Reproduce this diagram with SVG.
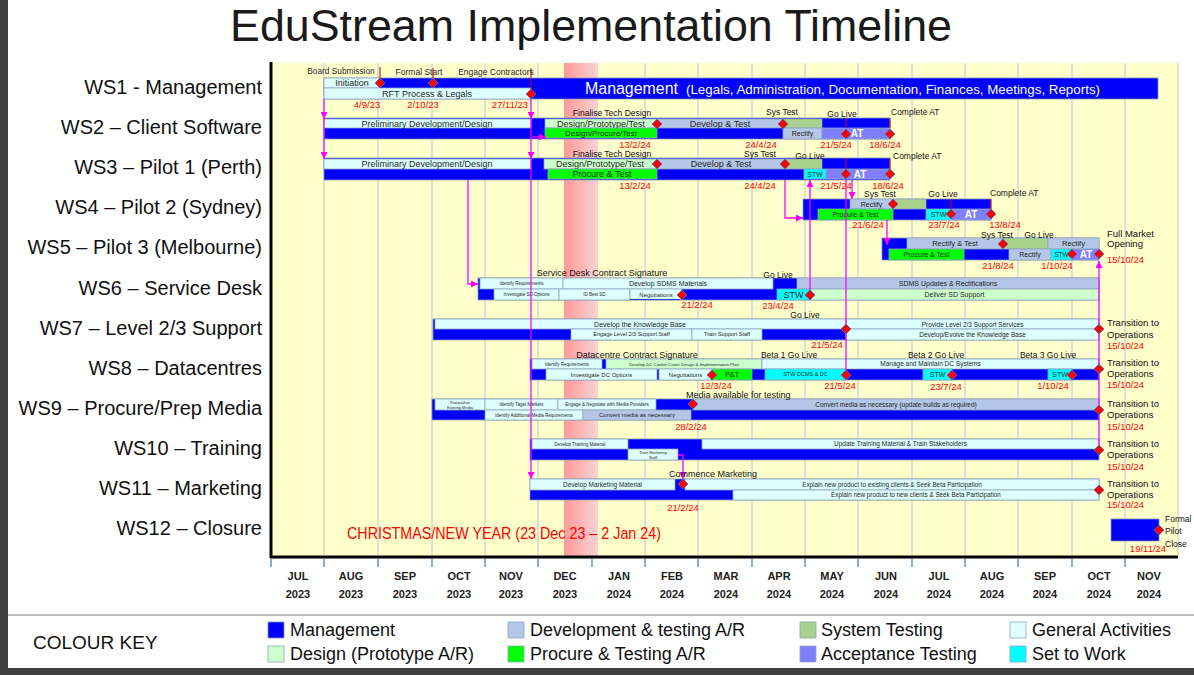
<svg xmlns="http://www.w3.org/2000/svg" width="1194" height="675" viewBox="0 0 1194 675">
<defs>
<linearGradient id="xmas" x1="0" y1="0" x2="1" y2="0">
<stop offset="0" stop-color="#FF9A9A"/><stop offset="1" stop-color="#FFD0D0"/>
</linearGradient>
<marker id="ah" viewBox="0 0 10 10" refX="10" refY="5" markerWidth="7" markerHeight="7" orient="auto" markerUnits="userSpaceOnUse">
<path d="M0,0 L10,5 L0,10z" fill="#FF00FF"/>
</marker>
<path id="dm" d="M0,-5 L5,0 L0,5 L-5,0Z" fill="#FF0000" stroke="#4472C4" stroke-width="0.8"/>
<style>
text{font-family:"Liberation Sans",Arial,sans-serif;fill:#1f1f1f}
.c{text-anchor:middle}
.m{fill:#0000FF;stroke:#8497B0;stroke-width:0.8}
.g{fill:#DDFFFF;stroke:#8FA4BF;stroke-width:0.8}
.d{fill:#B4C7E7;stroke:#8FA4BF;stroke-width:0.8}
.p{fill:#CCFFCC;stroke:#8FA4BF;stroke-width:0.8}
.pt{fill:#00FF00;stroke:#8FA4BF;stroke-width:0.8}
.st{fill:#A9D18E;stroke:#8FA4BF;stroke-width:0.8}
.at{fill:#8080FF;stroke:#8FA4BF;stroke-width:0.8}
.sw{fill:#00FFFF;stroke:#8FA4BF;stroke-width:0.8}
.grid{stroke:#D6D6D6;stroke-width:1.5}
.tick{stroke:#4472C4;stroke-width:1.2}
.mo{font-size:11px;font-weight:bold;text-anchor:middle;fill:#222}
.ws{font-size:20px;text-anchor:end;fill:#111}
.red{font-size:9.5px;fill:#FF0000}
.ms{font-size:8.5px;fill:#111}
.big{font-size:9px;fill:#111}
.rt{font-size:9.5px;fill:#111}
.atx{font-size:10px;font-weight:bold;fill:#FFFFFF;text-anchor:middle}
.rl{stroke:#E00000;stroke-width:1}
.con{fill:none;stroke:#FF00FF;stroke-width:1.3}
.lg{font-size:18px;fill:#111}
</style>
</defs>

<rect x="0" y="0" width="1194" height="675" fill="#FFFFFF"/>
<rect x="0" y="0" width="8" height="675" fill="#3F3F3F"/>
<rect x="0" y="668" width="1194" height="7" fill="#3F3F3F"/>

<text x="591" y="41" font-size="44" class="c" textLength="722" lengthAdjust="spacingAndGlyphs" style="fill:#1a1a1a">EduStream Implementation Timeline</text>

<!-- chart background -->
<rect x="272" y="63" width="908" height="493" fill="#FFFFCC"/>
<rect x="564" y="63" width="34" height="493" fill="url(#xmas)"/>
<g id="gridlines">
<line class="grid" x1="324" y1="63" x2="324" y2="555"/>
<line class="grid" x1="378" y1="63" x2="378" y2="555"/>
<line class="grid" x1="432" y1="63" x2="432" y2="555"/>
<line class="grid" x1="485" y1="63" x2="485" y2="555"/>
<line class="grid" x1="538" y1="63" x2="538" y2="555"/>
<line class="grid" x1="592" y1="63" x2="592" y2="555"/>
<line class="grid" x1="645" y1="63" x2="645" y2="555"/>
<line class="grid" x1="698" y1="63" x2="698" y2="555"/>
<line class="grid" x1="752" y1="63" x2="752" y2="555"/>
<line class="grid" x1="805" y1="63" x2="805" y2="555"/>
<line class="grid" x1="858" y1="63" x2="858" y2="555"/>
<line class="grid" x1="912" y1="63" x2="912" y2="555"/>
<line class="grid" x1="965" y1="63" x2="965" y2="555"/>
<line class="grid" x1="1018" y1="63" x2="1018" y2="555"/>
<line class="grid" x1="1072" y1="63" x2="1072" y2="555"/>
<line class="grid" x1="1125" y1="63" x2="1125" y2="555"/>
<line class="grid" x1="1178" y1="63" x2="1178" y2="555"/>
</g>
<line x1="271" y1="62" x2="271" y2="558" stroke="#000" stroke-width="3"/>
<line x1="270" y1="557" x2="1178" y2="557" stroke="#000" stroke-width="3"/>

<!-- axis -->
<g id="axis">
<line class="tick" x1="271" y1="559" x2="271" y2="567"/>
<line class="tick" x1="324" y1="559" x2="324" y2="567"/>
<line class="tick" x1="378" y1="559" x2="378" y2="567"/>
<line class="tick" x1="432" y1="559" x2="432" y2="567"/>
<line class="tick" x1="485" y1="559" x2="485" y2="567"/>
<line class="tick" x1="538" y1="559" x2="538" y2="567"/>
<line class="tick" x1="592" y1="559" x2="592" y2="567"/>
<line class="tick" x1="645" y1="559" x2="645" y2="567"/>
<line class="tick" x1="698" y1="559" x2="698" y2="567"/>
<line class="tick" x1="752" y1="559" x2="752" y2="567"/>
<line class="tick" x1="805" y1="559" x2="805" y2="567"/>
<line class="tick" x1="858" y1="559" x2="858" y2="567"/>
<line class="tick" x1="912" y1="559" x2="912" y2="567"/>
<line class="tick" x1="965" y1="559" x2="965" y2="567"/>
<line class="tick" x1="1018" y1="559" x2="1018" y2="567"/>
<line class="tick" x1="1072" y1="559" x2="1072" y2="567"/>
<line class="tick" x1="1125" y1="559" x2="1125" y2="567"/>
<text class="mo" x="298" y="580">JUL</text><text class="mo" x="298" y="598">2023</text>
<text class="mo" x="351" y="580">AUG</text><text class="mo" x="351" y="598">2023</text>
<text class="mo" x="405" y="580">SEP</text><text class="mo" x="405" y="598">2023</text>
<text class="mo" x="459" y="580">OCT</text><text class="mo" x="459" y="598">2023</text>
<text class="mo" x="511" y="580">NOV</text><text class="mo" x="511" y="598">2023</text>
<text class="mo" x="565" y="580">DEC</text><text class="mo" x="565" y="598">2023</text>
<text class="mo" x="619" y="580">JAN</text><text class="mo" x="619" y="598">2024</text>
<text class="mo" x="672" y="580">FEB</text><text class="mo" x="672" y="598">2024</text>
<text class="mo" x="726" y="580">MAR</text><text class="mo" x="726" y="598">2024</text>
<text class="mo" x="779" y="580">APR</text><text class="mo" x="779" y="598">2024</text>
<text class="mo" x="832" y="580">MAY</text><text class="mo" x="832" y="598">2024</text>
<text class="mo" x="886" y="580">JUN</text><text class="mo" x="886" y="598">2024</text>
<text class="mo" x="939" y="580">JUL</text><text class="mo" x="939" y="598">2024</text>
<text class="mo" x="992" y="580">AUG</text><text class="mo" x="992" y="598">2024</text>
<text class="mo" x="1045" y="580">SEP</text><text class="mo" x="1045" y="598">2024</text>
<text class="mo" x="1099" y="580">OCT</text><text class="mo" x="1099" y="598">2024</text>
<text class="mo" x="1149" y="580">NOV</text><text class="mo" x="1149" y="598">2024</text>
</g>

<!-- row labels -->
<g id="row-labels">
<text class="ws" x="262" y="94">WS1 - Management</text>
<text class="ws" x="262" y="134">WS2 – Client Software</text>
<text class="ws" x="262" y="174">WS3 – Pilot 1 (Perth)</text>
<text class="ws" x="262" y="214">WS4 – Pilot 2 (Sydney)</text>
<text class="ws" x="262" y="254">WS5 – Pilot 3 (Melbourne)</text>
<text class="ws" x="262" y="295">WS6 – Service Desk</text>
<text class="ws" x="262" y="335">WS7 – Level 2/3 Support</text>
<text class="ws" x="262" y="375">WS8 – Datacentres</text>
<text class="ws" x="262" y="415">WS9 – Procure/Prep Media</text>
<text class="ws" x="262" y="455">WS10 – Training</text>
<text class="ws" x="262" y="495">WS11 – Marketing</text>
<text class="ws" x="262" y="535">WS12 – Closure</text>
</g>

<!-- WS1 -->
<g id="ws1">
<rect class="m" x="324" y="78" width="834" height="21"/>
<rect class="g" x="324" y="78" width="56" height="10"/>
<text class="c" x="352" y="86.3" font-size="9">Initiation</text>
<rect class="g" x="324" y="88" width="207" height="11"/>
<text class="c" x="427" y="96.7" font-size="9">RFT Process &amp; Legals</text>
<text x="585" y="94" font-size="16" style="fill:#fff" textLength="93" lengthAdjust="spacingAndGlyphs">Management</text>
<text x="686" y="94" font-size="12.5" style="fill:#fff" textLength="414" lengthAdjust="spacingAndGlyphs">(Legals, Administration, Documentation, Finances, Meetings, Reports)</text>
</g>

<!-- WS2 -->
<g id="ws2">
<rect class="m" x="324" y="118" width="566" height="21"/>
<rect class="g" x="324" y="119" width="207" height="9"/>
<text class="c" x="427" y="126.7" font-size="9">Preliminary Development/Design</text>
<rect class="p" x="545" y="119" width="112" height="9"/>
<text class="c" x="601" y="126.7" font-size="9">Design/Prototype/Test</text>
<rect class="pt" x="545" y="128" width="112" height="10"/>
<text class="c" x="601" y="135.8" font-size="8">Design/Procure/Test</text>
<rect class="d" x="657" y="119" width="126" height="9"/>
<text class="c" x="720" y="126.7" font-size="9">Develop &amp; Test</text>
<rect class="st" x="783" y="119" width="39" height="9"/>
<rect class="d" x="783" y="128" width="39" height="11"/>
<text class="c" x="802.5" y="136" font-size="7">Rectify</text>
<rect class="at" x="822" y="128" width="68" height="11"/>
<text class="atx" x="857" y="137.3">AT</text>
<line class="rl" x1="846" y1="118" x2="846" y2="128"/>
<line class="rl" x1="890" y1="118" x2="890" y2="128"/>
</g>

<!-- WS3 -->
<g id="ws3">
<rect class="m" x="324" y="158" width="566" height="22"/>
<rect class="g" x="324" y="159" width="207" height="10"/>
<text class="c" x="427" y="167.2" font-size="9">Preliminary Development/Design</text>
<rect class="p" x="544" y="159" width="113" height="10"/>
<text class="c" x="600" y="167.2" font-size="9">Design/Prototype/Test</text>
<rect class="pt" x="548" y="169" width="109" height="10"/>
<text class="c" x="602" y="177.2" font-size="9">Procure &amp; Test</text>
<rect class="d" x="657" y="159" width="128" height="10"/>
<text class="c" x="721" y="167.2" font-size="9">Develop &amp; Test</text>
<rect class="st" x="785" y="159" width="37" height="10"/>
<rect class="sw" x="804" y="169" width="22" height="10"/>
<text class="c" x="815" y="176.5" font-size="7">STW</text>
<rect class="at" x="826" y="169" width="64" height="10"/>
<text class="atx" x="860" y="177.8">AT</text>
<line class="rl" x1="846" y1="158" x2="846" y2="169"/>
<line class="rl" x1="890" y1="158" x2="890" y2="169"/>
</g>

<!-- WS4 -->
<g id="ws4">
<rect class="m" x="803" y="199" width="188" height="21"/>
<rect class="d" x="850" y="199" width="43" height="10"/>
<text class="c" x="871.5" y="206.5" font-size="7">Rectify</text>
<rect class="st" x="893" y="199" width="33" height="10"/>
<rect class="pt" x="818" y="209" width="75" height="11"/>
<text class="c" x="855.5" y="217" font-size="7">Procure &amp; Test</text>
<rect class="sw" x="926" y="209" width="25" height="11"/>
<text class="c" x="938.5" y="217" font-size="7">STW</text>
<rect class="at" x="951" y="209" width="40" height="11"/>
<text class="atx" x="971" y="218.2">AT</text>
<line class="rl" x1="951" y1="199" x2="951" y2="209"/>
<line class="rl" x1="991" y1="199" x2="991" y2="210" stroke="#FF6600"/>
</g>

<!-- WS5 -->
<g id="ws5">
<rect class="m" x="882" y="238" width="217" height="22"/>
<rect class="d" x="907" y="238" width="96" height="11"/>
<text class="c" x="955" y="246.2" font-size="7.5">Rectify &amp; Test</text>
<rect class="st" x="1003" y="238" width="45" height="11"/>
<rect class="d" x="1048" y="238" width="51" height="11"/>
<text class="c" x="1073.5" y="246.2" font-size="7.5">Rectify</text>
<rect class="pt" x="889" y="249" width="75" height="11"/>
<text class="c" x="926.5" y="257.2" font-size="7">Procure &amp; Test</text>
<rect class="d" x="1009" y="249" width="42" height="11"/>
<text class="c" x="1030" y="257.2" font-size="7">Rectify</text>
<rect class="sw" x="1051" y="249" width="21" height="11"/>
<text class="c" x="1061.5" y="257" font-size="6.5">STW</text>
<rect class="at" x="1072" y="249" width="27" height="11"/>
<text class="atx" x="1086" y="258.2">AT</text>
</g>

<!-- WS6 -->
<g id="ws6">
<rect class="m" x="478" y="278" width="621" height="22"/>
<rect class="g" x="480" y="278" width="83" height="11"/>
<text class="c" x="521.5" y="285" font-size="4.5">Identify Requirements</text>
<rect class="g" x="563" y="278" width="210" height="11"/>
<text class="c" x="668" y="286" font-size="7">Develop SDMS Materials</text>
<rect class="d" x="797" y="278" width="302" height="11"/>
<text class="c" x="948" y="286" font-size="7">SDMS Updates &amp; Rectifications</text>
<rect class="g" x="494" y="289" width="65" height="11"/>
<text class="c" x="526.5" y="296" font-size="4.5">Investigate SD Options</text>
<rect class="g" x="559" y="289" width="71" height="11"/>
<text class="c" x="594.5" y="296" font-size="4.5">ID Best SD</text>
<rect class="g" x="630" y="289" width="52" height="11"/>
<text class="c" x="656" y="296.6" font-size="6">Negotiations</text>
<line x1="630" y1="299.5" x2="680" y2="299.5" stroke="#2E3FD0" stroke-width="1"/>
<rect class="sw" x="777" y="289" width="33" height="11"/>
<text class="c" x="793.5" y="297.8" font-size="9">STW</text>
<rect class="p" x="810" y="289" width="289" height="11"/>
<text class="c" x="954.5" y="297" font-size="7">Deliver SD Support</text>
</g>

<!-- WS7 -->
<g id="ws7">
<rect class="m" x="433" y="319" width="666" height="21"/>
<rect class="g" x="435" y="319" width="411" height="10"/>
<text class="c" x="640" y="326.5" font-size="7">Develop the Knowledge Base</text>
<rect class="g" x="846" y="319" width="253" height="10"/>
<text class="c" x="972.5" y="326.5" font-size="6.5">Provide Level 2/3 Support Services</text>
<rect class="g" x="571" y="329" width="121" height="11"/>
<text class="c" x="631.5" y="336.4" font-size="5.5">Engage Level 2/3 Support Staff</text>
<rect class="g" x="692" y="329" width="70" height="11"/>
<text class="c" x="727" y="336.4" font-size="5.5">Train Support Staff</text>
<rect class="g" x="846" y="329" width="253" height="11"/>
<text class="c" x="972.5" y="336.8" font-size="6.5">Develop/Evolve the Knowledge Base</text>
</g>

<!-- WS8 -->
<g id="ws8">
<rect class="m" x="530" y="359" width="569" height="21"/>
<rect class="g" x="532" y="359" width="70" height="10"/>
<text class="c" x="567" y="365.6" font-size="4.5">Identify Requirements</text>
<rect class="p" x="606" y="359" width="156" height="10"/>
<text class="c" x="684" y="365.5" font-size="4.3">Develop DC Cookie Cutter Design &amp; Implementation Plan</text>
<rect class="g" x="762" y="359" width="337" height="10"/>
<text class="c" x="930.5" y="366.3" font-size="6.5">Manage and Maintain DC Systems</text>
<rect class="g" x="546" y="369" width="111" height="11"/>
<text class="c" x="601.5" y="376.6" font-size="6">Investigate DC Options</text>
<rect class="g" x="659" y="369" width="53" height="11"/>
<text class="c" x="685.5" y="376.6" font-size="6">Negotiations</text>
<rect class="pt" x="712" y="369" width="40" height="11"/>
<text class="c" x="732" y="377" font-size="7">P&amp;T</text>
<rect class="sw" x="765" y="369" width="81" height="11"/>
<text class="c" x="805.5" y="376.4" font-size="5.5">STW DCMS &amp; DC</text>
<rect class="sw" x="923" y="369" width="29" height="11"/>
<text class="c" x="937.5" y="377" font-size="7">STW</text>
<rect class="sw" x="1048" y="369" width="24" height="11"/>
<text class="c" x="1060" y="377" font-size="7">STW</text>
</g>

<!-- WS9 -->
<g id="ws9">
<rect class="m" x="432" y="399" width="667" height="21"/>
<rect class="g" x="435" y="399" width="50" height="11"/>
<text class="c" x="460" y="403.6" font-size="4">Rationalise</text>
<text class="c" x="460" y="408.6" font-size="4">Existing Media</text>
<rect class="g" x="485" y="399" width="73" height="11"/>
<text class="c" x="521.5" y="406" font-size="4.5">Identify Taget Markets</text>
<rect class="g" x="558" y="399" width="98" height="11"/>
<text class="c" x="607" y="406" font-size="4.5">Engage &amp; Negotiate with Media Providers</text>
<rect class="d" x="693" y="399" width="406" height="11"/>
<text class="c" x="896" y="406.8" font-size="6.5">Convert media as necessary (update builds as required)</text>
<rect class="g" x="485" y="410" width="98" height="10"/>
<text class="c" x="534" y="416.6" font-size="4.5">Identify Additional Media Requirements</text>
<rect class="d" x="583" y="410" width="108" height="10"/>
<text class="c" x="637" y="417" font-size="6">Convert media as necessary</text>
</g>

<!-- WS10 -->
<g id="ws10">
<rect class="m" x="530" y="439" width="569" height="21"/>
<rect class="g" x="532" y="439" width="96" height="10"/>
<text class="c" x="580" y="445.6" font-size="4.5">Develop Training Material</text>
<rect class="g" x="702" y="439" width="397" height="10"/>
<text class="c" x="900.5" y="446.3" font-size="6.5">Update Training Material &amp; Train Stakeholders</text>
<rect class="g" x="628" y="449" width="50" height="11"/>
<text class="c" x="653" y="454" font-size="4">Train Marketing</text>
<text class="c" x="653" y="458.6" font-size="4">Staff</text>
</g>

<!-- WS11 -->
<g id="ws11">
<rect class="m" x="530" y="479" width="569" height="21"/>
<rect class="g" x="530" y="479" width="145" height="11"/>
<text class="c" x="602.5" y="486.8" font-size="6.5">Develop Marketing Material</text>
<rect class="g" x="685" y="479" width="414" height="11"/>
<text class="c" x="892" y="486.8" font-size="6.3">Explain new product to existing clients &amp; Seek Beta Participation</text>
<rect class="g" x="733" y="490" width="366" height="10"/>
<text class="c" x="916" y="497.3" font-size="6.3">Explain new product to new clients &amp; Seek Beta Participation</text>
</g>

<!-- WS12 -->
<g id="ws12">
<rect class="m" x="1111" y="519" width="48" height="22"/>
</g>

<!-- connectors -->
<g id="connectors">
<line x1="380" y1="67" x2="380" y2="78" stroke="#C00000" stroke-width="1"/>
<line x1="433" y1="68" x2="433" y2="78" stroke="#C00000" stroke-width="1"/>
<line x1="531" y1="68" x2="531" y2="94" stroke="#C00000" stroke-width="1"/>
<path class="con" d="M324,99 V119 V159" marker-mid="url(#ah)" marker-end="url(#ah)"/>
<path class="con" d="M531,99 V119 V159 V479" marker-mid="url(#ah)" marker-end="url(#ah)"/>
<path class="con" d="M532,137 H546" marker-end="url(#ah)"/>
<path class="con" d="M468,180 V284 H478" marker-end="url(#ah)"/>
<path class="con" d="M785,180 V218 H803" marker-end="url(#ah)"/>
<path class="con" d="M810,295 V180" marker-end="url(#ah)"/>
<path class="con" d="M846,180 V375"/>
<path class="con" d="M852,180 V199" marker-end="url(#ah)"/>
<path class="con" d="M887,220 V245" marker-end="url(#ah)"/>
<path class="con" d="M1099,450 V261" marker-end="url(#ah)"/>
<path class="con" d="M678,455 H683 V479" marker-end="url(#ah)"/>
</g>

<!-- milestones -->
<g id="milestones">
<use href="#dm" x="380" y="83"/><use href="#dm" x="433" y="83"/><use href="#dm" x="531" y="94"/>
<use href="#dm" x="657" y="124"/><use href="#dm" x="783" y="124"/><use href="#dm" x="846" y="134"/><use href="#dm" x="890" y="134"/>
<use href="#dm" x="657" y="164"/><use href="#dm" x="785" y="164"/><use href="#dm" x="846" y="174"/><use href="#dm" x="890" y="174"/>
<use href="#dm" x="893" y="204"/><use href="#dm" x="951" y="214"/><use href="#dm" x="991" y="214"/>
<use href="#dm" x="1003" y="244"/><use href="#dm" x="1072" y="254"/><use href="#dm" x="1099" y="254"/>
<use href="#dm" x="682" y="295"/><use href="#dm" x="810" y="295"/>
<use href="#dm" x="846" y="329"/><use href="#dm" x="1099" y="329"/>
<use href="#dm" x="712" y="375"/><use href="#dm" x="846" y="375"/><use href="#dm" x="952" y="375"/><use href="#dm" x="1072" y="375"/><use href="#dm" x="1099" y="369"/>
<use href="#dm" x="693" y="404"/><use href="#dm" x="1099" y="410"/>
<use href="#dm" x="1099" y="450"/>
<use href="#dm" x="683" y="484"/><use href="#dm" x="1099" y="490"/>
<use href="#dm" x="1159" y="530"/>
</g>

<!-- milestone labels -->
<g id="labels">
<text class="c" x="341" y="74" font-size="8.3">Board Submission</text>
<text class="c" x="419" y="75" font-size="8.5">Formal Start</text>
<text class="c" x="496" y="75" font-size="8.5">Engage Contractors</text>
<text class="red c" x="367" y="108">4/9/23</text>
<text class="red c" x="423" y="108">2/10/23</text>
<text class="red c" x="510" y="108">27/11/23</text>

<text class="ms c" x="612" y="116">Finalise Tech Design</text>
<text class="ms c" x="782" y="115">Sys Test</text>
<text class="ms c" x="842" y="117">Go Live</text>
<text class="ms" x="891" y="115">Complete AT</text>
<text class="red c" x="635" y="147.5">13/2/24</text>
<text class="red c" x="761" y="147.5">24/4/24</text>
<text class="red c" x="836" y="147.5">21/5/24</text>
<text class="red c" x="885" y="147.5">18/6/24</text>

<text class="ms c" x="612" y="157">Finalise Tech Design</text>
<text class="ms c" x="760" y="157">Sys Test</text>
<text class="ms c" x="810" y="159">Go Live</text>
<text class="ms" x="893" y="159">Complete AT</text>
<text class="red c" x="635" y="189">13/2/24</text>
<text class="red c" x="760" y="189">24/4/24</text>
<text class="red c" x="836" y="189">21/5/24</text>
<text class="red c" x="888" y="189">18/6/24</text>

<text class="ms c" x="880" y="197">Sys Test</text>
<text class="ms c" x="943" y="197">Go Live</text>
<text class="ms" x="990" y="196">Complete AT</text>
<text class="red c" x="868" y="228">21/6/24</text>
<text class="red c" x="944" y="228">23/7/24</text>
<text class="red c" x="1005" y="228">13/8/24</text>

<text class="ms c" x="997" y="237.5">Sys Test</text>
<text class="ms c" x="1039" y="237.5">Go Live</text>
<text class="rt" x="1107" y="237">Full Market</text>
<text class="rt" x="1107" y="247">Opening</text>
<text class="red c" x="998" y="269">21/8/24</text>
<text class="red c" x="1057" y="269">1/10/24</text>
<text class="red" x="1107" y="263">15/10/24</text>

<text class="big c" x="602" y="276">Service Desk Contract Signature</text>
<text class="ms c" x="778" y="278">Go Live</text>
<text class="red c" x="697" y="308">21/2/24</text>
<text class="red c" x="778" y="309">23/4/24</text>

<text class="ms c" x="805" y="318">Go Live</text>
<text class="red c" x="827" y="348">21/5/24</text>
<text class="rt" x="1107" y="326">Transition to</text>
<text class="rt" x="1107" y="338">Operations</text>
<text class="red" x="1107" y="349">15/10/24</text>

<text class="big c" x="637" y="358">Datacentre Contract Signature</text>
<text class="ms c" x="789" y="358">Beta 1 Go Live</text>
<text class="ms c" x="936" y="358">Beta 2 Go Live</text>
<text class="ms c" x="1048" y="358">Beta 3 Go Live</text>
<text class="red c" x="716" y="389">12/3/24</text>
<text class="red c" x="840" y="389">21/5/24</text>
<text class="red c" x="946" y="390">23/7/24</text>
<text class="red c" x="1053" y="389">1/10/24</text>
<text class="rt" x="1107" y="366">Transition to</text>
<text class="rt" x="1107" y="377">Operations</text>
<text class="red" x="1107" y="388">15/10/24</text>

<text class="big" x="686" y="398">Media available for testing</text>
<text class="red c" x="691" y="430">28/2/24</text>
<text class="rt" x="1107" y="407">Transition to</text>
<text class="rt" x="1107" y="418">Operations</text>
<text class="red" x="1107" y="430">15/10/24</text>

<text class="rt" x="1107" y="447">Transition to</text>
<text class="rt" x="1107" y="458">Operations</text>
<text class="red" x="1107" y="470">15/10/24</text>

<text class="big" x="669" y="477">Commence Marketing</text>
<text class="red c" x="683" y="511" font-size="8.5">21/2/24</text>
<text class="rt" x="1107" y="487">Transition to</text>
<text class="rt" x="1107" y="498">Operations</text>
<text class="red" x="1107" y="508">15/10/24</text>

<text class="ms" x="1165" y="522">Formal</text>
<text class="ms" x="1165" y="534">Pilot</text>
<text class="ms" x="1165" y="547">Close</text>
<text class="red c" x="1148" y="552">19/11/24</text>

<text x="347" y="539" font-size="16" textLength="314" lengthAdjust="spacingAndGlyphs" style="fill:#FF0000">CHRISTMAS/NEW YEAR (23 Dec 23 – 2 Jan 24)</text>
</g>

<!-- legend -->
<line x1="8" y1="615" x2="1194" y2="615" stroke="#BFBFBF" stroke-width="2"/>
<g id="legend">
<text x="33" y="649" font-size="19" style="fill:#111">COLOUR KEY</text>
<rect class="m" x="268" y="622" width="16" height="16"/>
<text class="lg" x="290" y="636">Management</text>
<rect class="p" x="268" y="646" width="16" height="16"/>
<text class="lg" x="290" y="660">Design (Prototype A/R)</text>
<rect class="d" x="508" y="622" width="16" height="16"/>
<text class="lg" x="530" y="636">Development &amp; testing A/R</text>
<rect class="pt" x="508" y="646" width="16" height="16"/>
<text class="lg" x="530" y="660">Procure &amp; Testing A/R</text>
<rect class="st" x="800" y="622" width="16" height="16"/>
<text class="lg" x="821" y="636">System Testing</text>
<rect class="at" x="800" y="646" width="16" height="16"/>
<text class="lg" x="821" y="660">Acceptance Testing</text>
<rect class="g" x="1010" y="622" width="16" height="16"/>
<text class="lg" x="1032" y="636">General Activities</text>
<rect class="sw" x="1010" y="646" width="16" height="16"/>
<text class="lg" x="1032" y="660">Set to Work</text>
</g>
</svg>
